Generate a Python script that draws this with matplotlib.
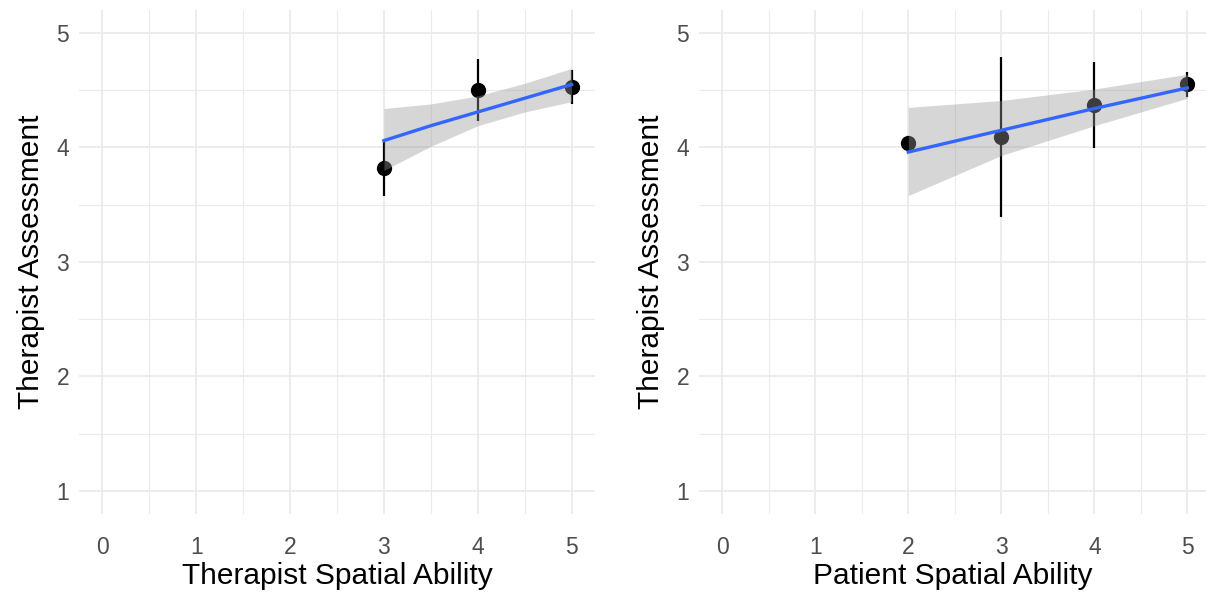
import numpy as np
import matplotlib
matplotlib.use('Agg')
import matplotlib.pyplot as plt
from matplotlib.ticker import MultipleLocator

plt.rcParams['font.family'] = ['Liberation Sans', 'DejaVu Sans']

# Linker paneel: therapeut
ther_x = [3, 4, 5]
ther_mean = [3.82, 4.50, 4.53]
ther_err = [0.24, 0.27, 0.15]
ther_fit_x = [3, 3.5, 4, 4.5, 5]
ther_fit = [4.06, 4.19, 4.31, 4.43, 4.55]
ther_lo = [3.80, 4.01, 4.19, 4.31, 4.40]
ther_hi = [4.34, 4.38, 4.45, 4.56, 4.69]

# Rechter paneel: patient
pat_x = [2, 3, 4, 5]
pat_mean = [4.04, 4.09, 4.37, 4.55]
pat_err = [0.0, 0.70, 0.375, 0.105]
pat_fit_x = [2, 3, 4, 5]
pat_fit = [3.96, 4.15, 4.34, 4.52]
pat_lo = [3.58, 3.93, 4.19, 4.43]
pat_hi = [4.35, 4.41, 4.51, 4.64]

xticks = [0, 1, 2, 3, 4, 5]
yticks = [1, 2, 3, 4, 5]

fig = plt.figure(figsize=(12.06, 5.92), dpi=100)
ax1 = fig.add_axes([0.0655, 0.132, 0.4279, 0.851])
ax2 = fig.add_axes([0.5796, 0.132, 0.4204, 0.851])

panels = [
    (ax1, ther_x, ther_mean, ther_err, ther_fit_x, ther_fit, ther_lo, ther_hi, 'Therapist Spatial Ability', 5.25),
    (ax2, pat_x, pat_mean, pat_err, pat_fit_x, pat_fit, pat_lo, pat_hi, 'Patient Spatial Ability', 5.2),
]

for ax, x, m, e, fx, f, lo, hi, xlabel, xmax in panels:
    ax.set_facecolor('white')
    ax.errorbar(x, m, yerr=e, fmt='none', ecolor='black', elinewidth=1.6, capsize=0, zorder=3)
    ax.scatter(x, m, s=100, color='black', zorder=4)
    ax.fill_between(fx, lo, hi, color='#999999', alpha=0.4, linewidth=0, zorder=5)
    ax.plot(fx, f, color='#3366FF', linewidth=2.4, zorder=6)

    ax.set_xlim(-0.25, xmax)
    ax.set_ylim(0.8, 5.2)
    ax.set_xticks(xticks)
    ax.set_yticks(yticks)
    ax.xaxis.set_minor_locator(MultipleLocator(0.5))
    ax.yaxis.set_minor_locator(MultipleLocator(0.5))
    ax.grid(which='major', color='#EBEBEB', linewidth=1.3, zorder=0)
    ax.grid(which='minor', color='#EBEBEB', linewidth=0.8, zorder=0)
    ax.set_axisbelow(True)
    for s in ax.spines.values():
        s.set_visible(False)
    ax.tick_params(which='both', length=0, labelsize=16.5, labelcolor='#4D4D4D')
    ax.tick_params(axis='x', pad=16)
    ax.tick_params(axis='y', pad=7)
    ax.set_xlabel(xlabel, fontsize=21.5, color='black', labelpad=2)
    ax.set_ylabel('Therapist Assessment', fontsize=21.5, color='black', labelpad=8)

plt.savefig('out.png', dpi=100)
